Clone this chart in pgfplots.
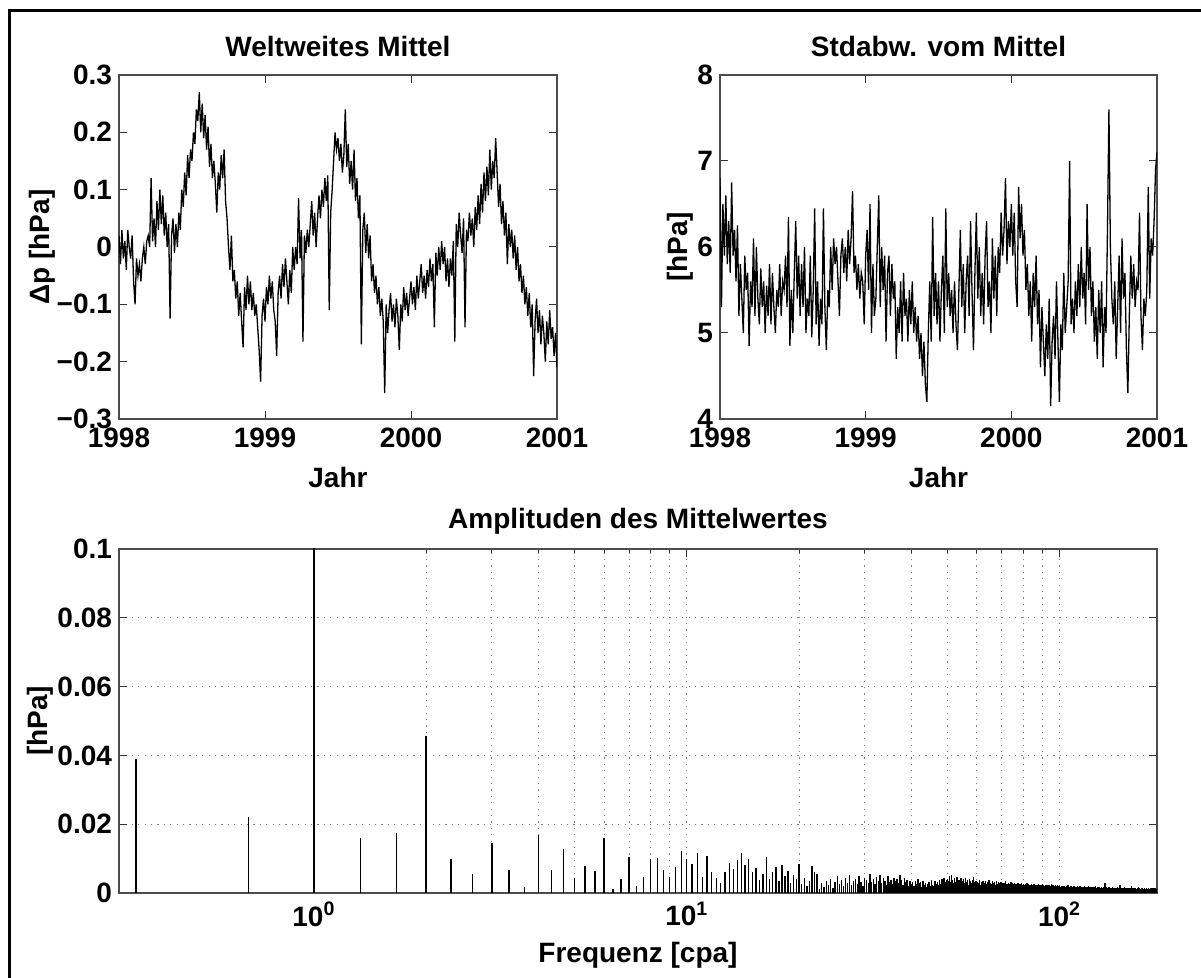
\documentclass[border=0pt]{standalone}
\usepackage{fontspec}
\setmainfont{Liberation Sans}
\usepackage{pgfplots}
\usepackage{pgfplotstable}
\pgfplotsset{compat=1.18}

\pgfplotstableread[row sep=\\,header=false]{
0.02\\-0.03\\0.03\\-0.02\\0.01\\-0.04\\0.03\\0.00\\-0.02\\0.02\\
-0.06\\-0.10\\-0.02\\-0.05\\-0.03\\-0.06\\-0.02\\0.00\\-0.03\\0.01\\
0.02\\0.00\\0.12\\0.01\\0.05\\0.00\\0.08\\0.03\\0.10\\0.04\\
0.09\\0.02\\0.06\\0.00\\0.04\\-0.125\\0.02\\0.05\\-0.01\\0.04\\
0.00\\0.06\\0.03\\0.10\\0.07\\0.13\\0.09\\0.16\\0.12\\0.17\\
0.15\\0.20\\0.18\\0.24\\0.22\\0.27\\0.20\\0.25\\0.19\\0.23\\
0.17\\0.21\\0.14\\0.18\\0.12\\0.15\\0.11\\0.06\\0.13\\0.10\\
0.16\\0.12\\0.17\\0.08\\0.05\\0.00\\-0.04\\0.02\\-0.06\\-0.04\\
-0.09\\-0.06\\-0.12\\-0.08\\-0.13\\-0.175\\-0.07\\-0.11\\-0.05\\-0.10\\
-0.06\\-0.11\\-0.08\\-0.12\\-0.10\\-0.14\\-0.18\\-0.235\\-0.12\\-0.09\\
-0.13\\-0.07\\-0.10\\-0.05\\-0.09\\-0.06\\-0.11\\-0.13\\-0.19\\-0.08\\
-0.05\\-0.09\\-0.03\\-0.07\\-0.02\\-0.06\\-0.10\\-0.04\\-0.08\\0.00\\
-0.04\\0.00\\-0.03\\0.085\\-0.02\\0.03\\-0.165\\0.02\\-0.01\\0.03\\
0.00\\0.04\\0.08\\0.02\\0.06\\0.00\\0.05\\0.09\\0.05\\0.10\\
0.07\\0.12\\0.08\\0.125\\-0.11\\0.06\\0.10\\0.15\\0.20\\0.17\\
0.19\\0.15\\0.18\\0.13\\0.16\\0.24\\0.14\\0.18\\0.11\\0.15\\
0.10\\0.17\\0.08\\0.12\\0.05\\0.09\\-0.17\\0.03\\0.06\\-0.01\\
0.04\\-0.02\\0.02\\-0.06\\-0.03\\-0.08\\-0.05\\-0.10\\-0.07\\-0.12\\
-0.09\\-0.13\\-0.255\\-0.10\\-0.15\\-0.11\\-0.08\\-0.13\\-0.10\\-0.14\\
-0.09\\-0.12\\-0.18\\-0.10\\-0.13\\-0.07\\-0.11\\-0.08\\-0.12\\-0.09\\
-0.06\\-0.10\\-0.07\\-0.11\\-0.05\\-0.09\\-0.06\\-0.03\\-0.08\\-0.05\\
-0.09\\-0.04\\-0.07\\-0.02\\-0.06\\-0.03\\-0.14\\-0.01\\-0.05\\0.00\\
-0.04\\0.01\\-0.03\\0.00\\-0.06\\-0.02\\-0.07\\-0.02\\-0.05\\0.01\\
-0.165\\0.04\\0.00\\0.06\\0.02\\-0.01\\0.05\\-0.14\\0.03\\0.01\\
0.06\\0.02\\0.05\\0.00\\0.07\\0.03\\0.09\\0.04\\0.11\\0.06\\
0.13\\0.08\\0.14\\0.09\\0.17\\0.10\\0.15\\0.12\\0.19\\0.13\\
0.07\\0.11\\0.04\\0.08\\0.02\\0.06\\-0.03\\0.04\\0.00\\0.03\\
-0.02\\0.02\\-0.04\\0.00\\-0.06\\-0.03\\-0.08\\-0.05\\-0.10\\-0.07\\
-0.12\\-0.08\\-0.14\\-0.10\\-0.225\\-0.13\\-0.09\\-0.15\\-0.11\\-0.17\\
-0.12\\-0.15\\-0.20\\-0.13\\-0.17\\-0.11\\-0.16\\-0.14\\-0.19\\-0.15\\
-0.21\\
}\meanp

\pgfplotstableread[row sep=\\,header=false]{
6.8\\5.3\\6.5\\5.9\\6.6\\5.8\\6.3\\5.7\\6.75\\5.9\\
6.2\\5.6\\6.25\\5.2\\5.8\\5.4\\5.0\\5.9\\5.5\\5.7\\
4.85\\5.6\\5.3\\6.1\\5.2\\6.0\\5.4\\5.1\\5.75\\5.3\\
5.6\\5.0\\5.55\\5.2\\5.8\\5.1\\5.7\\5.3\\5.0\\5.5\\
5.3\\5.8\\5.2\\5.6\\5.5\\5.9\\5.3\\6.35\\4.85\\5.5\\
5.0\\5.7\\6.3\\5.4\\5.9\\5.2\\5.8\\5.3\\6.0\\5.0\\
5.4\\5.2\\5.9\\4.95\\5.5\\6.45\\5.1\\5.6\\4.85\\5.4\\
5.1\\6.45\\5.3\\4.8\\5.5\\5.3\\6.0\\5.5\\6.1\\5.8\\
6.0\\5.6\\5.2\\5.9\\6.1\\5.7\\6.0\\5.6\\6.2\\5.8\\
6.1\\6.65\\5.7\\5.9\\5.5\\5.8\\5.4\\5.7\\5.6\\5.1\\
5.9\\6.2\\5.5\\6.5\\5.0\\5.8\\5.2\\5.4\\6.0\\6.6\\
5.3\\6.0\\5.5\\5.9\\4.9\\5.7\\5.9\\5.2\\5.8\\5.4\\
5.6\\4.7\\5.3\\5.0\\5.6\\4.9\\5.7\\5.2\\5.4\\4.9\\
5.5\\5.1\\5.6\\5.0\\5.3\\4.9\\5.2\\4.7\\5.0\\4.5\\
4.9\\4.4\\4.2\\5.0\\5.6\\4.9\\6.35\\5.2\\5.7\\5.1\\
5.6\\4.9\\5.5\\5.9\\5.0\\6.45\\5.3\\5.7\\5.2\\5.5\\
5.0\\5.6\\5.1\\4.8\\5.5\\6.2\\5.3\\5.8\\5.0\\5.6\\
5.9\\5.2\\6.3\\5.5\\4.8\\5.7\\6.4\\5.4\\6.0\\5.2\\
5.7\\5.1\\5.9\\6.3\\5.3\\5.6\\5.0\\6.1\\5.4\\5.9\\
5.2\\6.0\\5.7\\6.4\\5.9\\6.2\\6.8\\5.8\\6.3\\6.0\\
6.5\\5.9\\6.4\\5.6\\5.3\\6.7\\6.1\\6.5\\5.9\\6.2\\
5.5\\5.8\\5.2\\5.6\\4.9\\5.7\\5.3\\5.9\\5.1\\5.5\\
4.6\\5.3\\4.9\\4.5\\5.1\\4.7\\5.4\\4.15\\4.9\\5.2\\
4.7\\5.6\\4.9\\4.2\\5.1\\4.8\\5.7\\5.0\\5.3\\5.6\\
7.0\\5.1\\5.4\\5.0\\5.6\\5.2\\5.8\\5.3\\6.0\\5.4\\
5.7\\5.1\\6.5\\5.5\\6.0\\5.2\\5.6\\4.9\\5.3\\4.7\\
5.5\\5.0\\5.6\\4.6\\5.3\\5.0\\6.2\\7.6\\6.0\\5.4\\
5.1\\5.6\\4.7\\5.3\\5.9\\5.0\\6.1\\5.4\\5.7\\4.8\\
4.3\\5.2\\5.9\\5.4\\5.8\\5.3\\5.6\\5.5\\6.4\\5.2\\
4.8\\5.4\\5.2\\5.5\\6.7\\5.4\\6.1\\5.9\\6.3\\6.9\\
7.1\\
}\stdp

\pgfplotstableread[row sep=\\,header=false]{
0.039\\0.022\\0.11\\0.016\\0.0175\\0.0455\\0.010\\0.0055\\0.0145\\0.0068\\
0.0018\\0.017\\0.0068\\0.0128\\0.0045\\0.0078\\0.0065\\0.016\\0.0012\\0.004\\
0.0105\\0.002\\0.0047\\0.0099\\0.0101\\0.0066\\0.0047\\0.0076\\0.0122\\0.0099\\
0.0083\\0.0115\\0.0047\\0.0108\\0.006\\0.0045\\0.0028\\0.0062\\0.0088\\0.007\\
0.0095\\0.0115\\0.008\\0.010\\0.006\\0.0072\\0.0038\\0.0055\\0.0105\\0.0042\\
0.0062\\0.0075\\0.0035\\0.008\\0.0048\\0.0065\\0.003\\0.0052\\0.004\\0.0085\\
0.0025\\0.0045\\0.002\\0.0035\\0.0078\\0.006\\0.0055\\0.0012\\0.0028\\0.0018\\
0.0035\\0.0022\\0.004\\0.0015\\0.0032\\0.0048\\0.0026\\0.0038\\0.0019\\0.0044\\
0.003\\0.0052\\0.0024\\0.0036\\0.0041\\0.0027\\0.0049\\0.0033\\0.0021\\0.0045\\
0.0038\\0.0029\\0.0054\\0.0031\\0.0042\\0.0025\\0.0047\\0.0035\\0.0051\\0.0028\\
0.0043\\0.0036\\0.0022\\0.0048\\0.0032\\0.0039\\0.0026\\0.0045\\0.0034\\0.0041\\
0.0029\\0.0052\\0.0037\\0.0024\\0.0044\\0.0031\\0.0038\\0.0021\\0.0035\\0.0027\\
0.0033\\0.0019\\0.0036\\0.0025\\0.0042\\0.0028\\0.0031\\0.0018\\0.0034\\0.0023\\
0.0029\\0.0016\\0.0026\\0.0032\\0.0021\\0.0038\\0.0024\\0.0019\\0.0035\\0.0027\\
0.0031\\0.0022\\0.0039\\0.0026\\0.0042\\0.0029\\0.0045\\0.0033\\0.0037\\0.0041\\
0.0035\\0.0048\\0.0031\\0.0052\\0.0038\\0.0029\\0.0044\\0.0033\\0.0047\\0.0027\\
0.0039\\0.0034\\0.0043\\0.0025\\0.0036\\0.0041\\0.0028\\0.0045\\0.0032\\0.0037\\
0.0024\\0.0042\\0.0035\\0.0029\\0.0038\\0.0046\\0.0031\\0.0027\\0.0035\\0.0022\\
0.0033\\0.0028\\0.0037\\0.0024\\0.0031\\0.0026\\0.0034\\0.0021\\0.0029\\0.0036\\
0.0025\\0.0032\\0.0027\\0.0039\\0.0023\\0.0030\\0.0026\\0.0034\\0.0021\\0.0028\\
0.0031\\0.0024\\0.0035\\0.0027\\0.0022\\0.0033\\0.0029\\0.0025\\0.0032\\0.0019\\
0.0028\\0.0023\\0.0030\\0.0026\\0.0034\\0.0021\\0.0027\\0.0024\\0.0029\\0.0020\\
0.0026\\0.0031\\0.0023\\0.0028\\0.0019\\0.0025\\0.0030\\0.0022\\0.0027\\0.0024\\
0.0021\\0.0028\\0.0025\\0.0019\\0.0026\\0.0023\\0.0029\\0.0020\\0.0024\\0.0027\\
0.0022\\0.0018\\0.0025\\0.0021\\0.0028\\0.0019\\0.0023\\0.0026\\0.0020\\0.0024\\
0.0021\\0.0027\\0.0018\\0.0023\\0.0020\\0.0025\\0.0017\\0.0022\\0.0024\\0.0019\\
0.0023\\0.0020\\0.0026\\0.0018\\0.0021\\0.0024\\0.0019\\0.0022\\0.0017\\0.0025\\
0.0020\\0.0023\\0.0018\\0.0021\\0.0016\\0.0024\\0.0019\\0.0022\\0.0018\\0.0020\\
0.0023\\0.0017\\0.0021\\0.0019\\0.0025\\0.0016\\0.0020\\0.0022\\0.0018\\0.0021\\
0.0019\\0.0023\\0.0016\\0.0020\\0.0018\\0.0022\\0.0017\\0.0021\\0.0019\\0.0015\\
0.0017\\0.0014\\0.0020\\0.0016\\0.0012\\0.0019\\0.0015\\0.0021\\0.0013\\0.0018\\
0.0016\\0.0011\\0.0019\\0.0014\\0.0017\\0.0022\\0.0013\\0.0016\\0.0012\\0.0018\\
0.0015\\0.0019\\0.0013\\0.0017\\0.0011\\0.0016\\0.0014\\0.0020\\0.0012\\0.0015\\
0.0018\\0.0013\\0.0016\\0.0011\\0.0019\\0.0014\\0.0017\\0.0012\\0.0015\\0.0021\\
0.0013\\0.0016\\0.0012\\0.0018\\0.0014\\0.0010\\0.0017\\0.0013\\0.0015\\0.0019\\
0.0012\\0.0016\\0.0014\\0.0011\\0.0017\\0.0013\\0.0015\\0.0020\\0.0012\\0.0014\\
0.0016\\0.0011\\0.0013\\0.0018\\0.0012\\0.0015\\0.0010\\0.0014\\0.0017\\0.0012\\
0.0014\\0.0016\\0.0011\\0.0013\\0.0019\\0.0012\\0.0015\\0.0010\\0.0014\\0.0016\\
0.0012\\0.0015\\0.0011\\0.0017\\0.0013\\0.0010\\0.0014\\0.0016\\0.0012\\0.0015\\
0.0011\\0.0014\\0.0017\\0.0012\\0.0015\\0.0013\\0.0030\\0.0014\\0.0011\\0.0016\\
0.0012\\0.0014\\0.0010\\0.0015\\0.0013\\0.0011\\0.0016\\0.0012\\0.0014\\0.0010\\
0.0013\\0.0015\\0.0011\\0.0014\\0.0012\\0.0016\\0.0010\\0.0013\\0.0015\\0.0011\\
0.0014\\0.0012\\0.0010\\0.0015\\0.0013\\0.0011\\0.0014\\0.0012\\0.0016\\0.0010\\
0.0013\\0.0011\\0.0014\\0.0012\\0.0015\\0.0022\\0.0011\\0.0013\\0.0010\\0.0014\\
0.0012\\0.0015\\0.0011\\0.0013\\0.0010\\0.0014\\0.0012\\0.0016\\0.0011\\0.0013\\
0.0010\\0.0014\\0.0012\\0.0011\\0.0015\\0.0013\\0.0010\\0.0012\\0.0014\\0.0011\\
0.0013\\0.0010\\0.0015\\0.0012\\0.0011\\0.0014\\0.0020\\0.0012\\0.0010\\0.0013\\
0.0011\\0.0014\\0.0012\\0.0010\\0.0013\\0.0011\\0.0015\\0.0012\\0.0010\\0.0014\\
0.0012\\0.0011\\0.0013\\0.0010\\0.0014\\0.0012\\0.0011\\0.0013\\0.0016\\0.0010\\
0.0012\\0.0014\\0.0011\\0.0013\\0.0010\\0.0012\\0.0015\\0.0011\\0.0013\\0.0010\\
0.0014\\0.0012\\0.0011\\0.0013\\0.0010\\0.0012\\0.0014\\0.0011\\0.0013\\0.0012\\
0.0010\\0.0013\\0.0011\\0.0014\\0.0012\\0.0010\\0.0013\\0.0011\\0.0012\\0.0015\\
0.0011\\0.0013\\0.0010\\0.0012\\0.0014\\0.0011\\0.0013\\0.0010\\0.0012\\0.0011\\
0.0014\\0.0012\\0.0010\\0.0013\\0.0011\\0.0012\\0.0015\\0.0011\\0.0013\\0.0010\\
0.0012\\0.0014\\0.0011\\0.0013\\0.0010\\0.0012\\0.0011\\
}\amp

\newcommand{\tf}{\fontsize{14}{16}\selectfont\bfseries}
\pgfplotsset{
  mat/.style={
    scale only axis, anchor=south west,
    axis line style={black!70, line width=0.7pt},
    tick style={black!80, line width=0.5pt},
    major tick length=4pt, minor tick length=2pt,
    tick align=inside,
    ticklabel style={font=\tf},
    label style={font=\tf},
    title style={font=\tf},
    xticklabel style={yshift=-1pt},
  }
}

\begin{document}
\begin{tikzpicture}
\path[use as bounding box] (0pt,0pt) rectangle (600.5pt,489pt);
\draw[line width=1.5pt] (4.8pt,0pt) -- (4.8pt,483.6pt) -- (600.5pt,483.6pt);

% top left
\begin{axis}[mat, at={(59.5pt,279.5pt)}, width=219pt, height=172pt,
  xmin=1998, xmax=2001, ymin=-0.3, ymax=0.3,
  xtick={1998,1999,2000,2001}, xticklabels={1998,1999,2000,2001},
  ytick={-0.3,-0.2,-0.1,0,0.1,0.2,0.3},
  yticklabels={−0.3,−0.2,−0.1,0,0.1,0.2,0.3},
  title={Weltweites Mittel},
  title style={at={(axis description cs:0.5,1.047)}, anchor=center},
  xlabel={Jahr},
  xlabel style={at={(axis description cs:0.5,-0.17)}, anchor=center},
  ylabel={Δp [hPa]},
  ylabel style={at={(axis description cs:-0.176,0.5)}, anchor=center},
]
\addplot[black, line width=0.65pt] table[x expr=1998+\coordindex/100, y index=0] {\meanp};
\end{axis}

% top right
\begin{axis}[mat, at={(360pt,279.5pt)}, width=218.5pt, height=172pt,
  xmin=1998, xmax=2001, ymin=4, ymax=8,
  xtick={1998,1999,2000,2001}, xticklabels={1998,1999,2000,2001},
  ytick={4,5,6,7,8}, yticklabels={4,5,6,7,8},
  title={Stdabw. vom Mittel},
  title style={at={(axis description cs:0.5,1.047)}, anchor=center},
  xlabel={Jahr},
  xlabel style={at={(axis description cs:0.5,-0.17)}, anchor=center},
  ylabel={[hPa]},
  ylabel style={at={(axis description cs:-0.09,0.5)}, anchor=center},
]
\addplot[black, line width=0.65pt] table[x expr=1998+\coordindex/100, y index=0] {\stdp};
\end{axis}

% bottom
\begin{axis}[mat, at={(59.5pt,42.5pt)}, width=519pt, height=172pt,
  xmode=log, xmin=0.3, xmax=182.5, ymin=0, ymax=0.1,
  xtick={1,10,100},
  xticklabels={10\textsuperscript{0},10\textsuperscript{1},10\textsuperscript{2}},
  ytick={0,0.02,0.04,0.06,0.08,0.1},
  yticklabels={0,0.02,0.04,0.06,0.08,0.1},
  grid=both,
  major grid style={dash pattern=on 0.6pt off 2.6pt, black!50, line width=0.5pt},
  minor grid style={dash pattern=on 0.6pt off 2.6pt, black!50, line width=0.5pt},
  title={Amplituden des Mittelwertes},
  title style={at={(axis description cs:0.5,1.047)}, anchor=center},
  xlabel={Frequenz [cpa]},
  xlabel style={at={(axis description cs:0.5,-0.18)}, anchor=center},
  ylabel={[hPa]},
  ylabel style={at={(axis description cs:-0.076,0.5)}, anchor=center},
]
\addplot[ycomb, black, line width=0.7pt, mark=none] table[x expr=(\coordindex+1)/3, y index=0] {\amp};
\end{axis}
\end{tikzpicture}
\end{document}
